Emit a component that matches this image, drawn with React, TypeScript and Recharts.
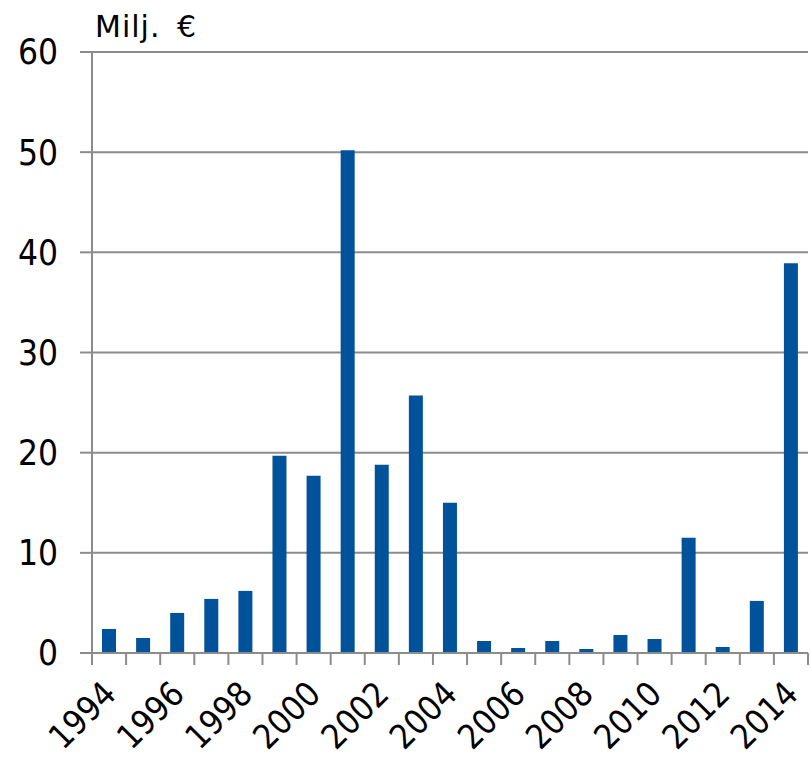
import React from 'react';
import { BarChart, Bar, XAxis, YAxis, CartesianGrid } from 'recharts';

const years = ['1994','1995','1996','1997','1998','1999','2000','2001','2002','2003','2004','2005','2006','2007','2008','2009','2010','2011','2012','2013','2014'];
const values = [2.4, 1.5, 4.0, 5.4, 6.2, 19.7, 17.7, 50.2, 18.8, 25.7, 15.0, 1.2, 0.5, 1.2, 0.4, 1.8, 1.4, 11.5, 0.6, 5.2, 38.9];
const yTicks = [0, 10, 20, 30, 40, 50, 60];
const unitLabel = 'Milj. €';

const data = years.map((y, i) => ({ year: y, value: values[i] }));

const FONT = '"DejaVu Sans Condensed", "DejaVu Sans", sans-serif';
const GRID = '#8c8c8c';

const XTick = (props: any) => {
  const { x, y, payload, index } = props;
  const half = payload && payload.offset ? payload.offset : 17.05;
  const isLast = index === years.length - 1;
  const ax = x + 9;
  const ay = y + 35;
  return (
    <g>
      <line x1={x - half} x2={x - half} y1={y - 8} y2={y + 4} stroke={GRID} strokeWidth={2} />
      {isLast && <line x1={x + half} x2={x + half} y1={y - 8} y2={y + 4} stroke={GRID} strokeWidth={2} />}
      {index % 2 === 0 && (
        <text
          x={ax}
          y={ay}
          textAnchor="end"
          fontSize={34}
          fontFamily={FONT}
          fill="#000"
          transform={`rotate(-45, ${ax}, ${ay})`}
        >
          {payload.value}
        </text>
      )}
    </g>
  );
};

export default function App() {
  return (
    <div style={{ position: 'absolute', left: 0, top: 0 }}>
      <BarChart width={811} height={759} data={data} margin={{ top: 52, right: 3, left: 0, bottom: 0 }}>
        <CartesianGrid vertical={false} stroke={GRID} strokeWidth={2} />
        <XAxis
          dataKey="year"
          height={106}
          interval={0}
          tickLine={false}
          axisLine={{ stroke: GRID, strokeWidth: 2 }}
          tick={<XTick />}
        />
        <YAxis
          width={92}
          domain={[0, 60]}
          ticks={yTicks}
          interval={0}
          tickSize={12}
          tickMargin={22}
          tickLine={{ stroke: GRID, strokeWidth: 2 }}
          axisLine={{ stroke: GRID, strokeWidth: 2 }}
          tick={{ fontSize: 35, fontFamily: FONT, fill: '#000' }}
          label={{
            content: () => (
              <text
                x={95}
                y={37}
                fontSize={30}
                fontFamily='"DejaVu Sans", sans-serif'
                letterSpacing={1}
                wordSpacing={6}
                fill="#000"
              >
                {unitLabel}
              </text>
            ),
          }}
        />
        <Bar dataKey="value" fill="#00529B" barSize={14} isAnimationActive={false} />
      </BarChart>
    </div>
  );
}
